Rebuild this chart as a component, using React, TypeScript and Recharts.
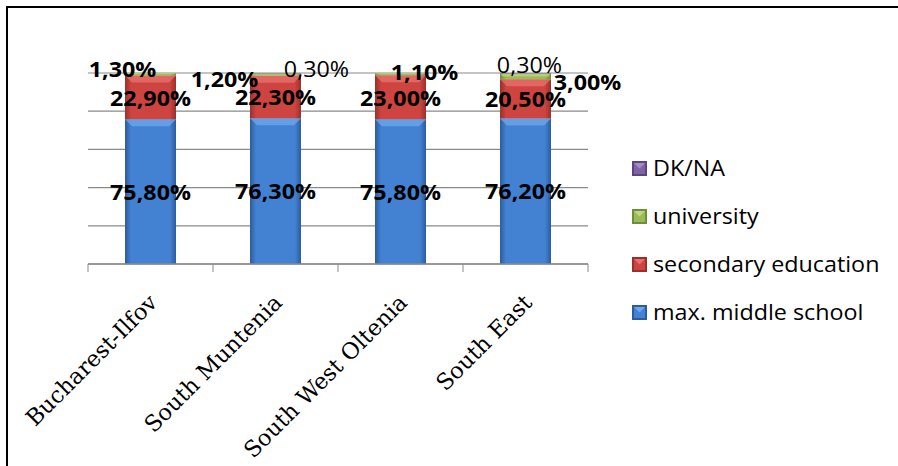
import React from 'react';
import { BarChart, Bar, XAxis, YAxis, CartesianGrid, LabelList } from 'recharts';

// Education level by development region (shares of respondents, %)
const regions = ['Bucharest-Ilfov', 'South Muntenia', 'South West Oltenia', 'South East'];
const middleSchool = [75.8, 76.3, 75.8, 76.2];
const secondaryEducation = [22.9, 22.3, 23.0, 20.5];
const university = [1.3, 1.2, 1.1, 3.0];
const dkNa = [0, 0.3, 0, 0.3];
const yTicks = [0, 20, 40, 60, 80, 100];

const valuesByKey: Record<string, number[]> = {
  middleSchool,
  secondaryEducation,
  university,
  dkNa,
};

const data = regions.map((region, i) => ({
  region,
  middleSchool: middleSchool[i],
  secondaryEducation: secondaryEducation[i],
  university: university[i],
  dkNa: dkNa[i],
}));

type Series = {
  key: string;
  name: string;
  base: string;
  light: string;
  dark: string;
  bold: boolean;
};

const series: Series[] = [
  { key: 'middleSchool', name: 'max. middle school', base: '#4382D3', light: '#6EA8EE', dark: '#2C5C9E', bold: true },
  { key: 'secondaryEducation', name: 'secondary education', base: '#CE4440', light: '#E8716D', dark: '#98302C', bold: true },
  { key: 'university', name: 'university', base: '#9BBB59', light: '#BCD880', dark: '#6E8E37', bold: true },
  { key: 'dkNa', name: 'DK/NA', base: '#8064A2', light: '#A58ACB', dark: '#5B4580', bold: false },
];

// Thin segments get their labels nudged off the bar: [dx from bar centre, dy from segment middle]
const thinLabelShift: Record<string, [number, number][]> = {
  university: [[-28, -5], [-51, 4], [24, -2], [62, 5]],
  dkNa: [[0, 0], [41, -4], [0, 0], [4, -9]],
};

const LABEL_FONT = '"Open Sans", "Noto Sans", sans-serif';
const AXIS_FONT = '"DejaVu Serif", "Liberation Serif", serif';
const GRID = '#8a8a8a';

const fmtPct = (v: number) => v.toFixed(2).replace('.', ',') + '%';

const BevelBar = (props: any) => {
  const { x, y, width, height, s } = props as { x: number; y: number; width: number; height: number; s: Series };
  if (!height || height <= 0 || !width) return null;
  const b = Math.min(7, height / 2);
  return (
    <g>
      <rect x={x} y={y} width={width} height={height} fill={`url(#grad-${s.key})`} />
      <polygon
        points={`${x},${y} ${x + width},${y} ${x + width - b},${y + b} ${x + b},${y + b}`}
        fill={s.light}
        opacity={0.75}
      />
    </g>
  );
};

const makeLabel = (s: Series) => (p: any) => {
  const vb = p.viewBox || {};
  const x = p.x ?? vb.x;
  const y = p.y ?? vb.y;
  const width = p.width ?? vb.width;
  const height = p.height ?? vb.height;
  const index: number = p.index ?? 0;
  const value = valuesByKey[s.key][index];
  if (!value || x == null) return null;
  let cx = x + width / 2;
  let cy = y + height / 2;
  const shift = thinLabelShift[s.key];
  if (shift) {
    cx += shift[index][0];
    cy += shift[index][1];
  }
  return (
    <g transform={`translate(${cx},${cy}) scale(1.06,1)`}>
      <text
        x={0}
        y={0}
        textAnchor="middle"
        dominantBaseline="central"
        fontFamily={LABEL_FONT}
        fontSize={22}
        fontWeight={s.bold ? 700 : 400}
        fill="#000"
      >
        {fmtPct(value)}
      </text>
    </g>
  );
};

const RegionTick = (p: any) => {
  const { x, y, payload, index, visibleTicksCount } = p;
  const half = payload && payload.offset ? payload.offset : 62.5;
  const last = index === (visibleTicksCount ?? regions.length) - 1;
  return (
    <g>
      <line x1={x - half} y1={y} x2={x - half} y2={y + 8} stroke={GRID} />
      {last && <line x1={x + half} y1={y} x2={x + half} y2={y + 8} stroke={GRID} />}
      <text
        transform={`translate(${x + 8},${y + 40}) rotate(-45)`}
        textAnchor="end"
        fontFamily={AXIS_FONT}
        fontSize={22.5}
        fill="#000"
      >
        {payload.value}
      </text>
    </g>
  );
};

const LegendSwatch = ({ s }: { s: Series }) => (
  <svg width={15} height={15} style={{ display: 'block' }}>
    <rect x={0} y={0} width={15} height={15} fill={s.dark} />
    <polygon points="2,2 13,2 13,13 2,13" fill={s.base} />
    <polygon points="2,2 13,2 7.5,7.5" fill={s.light} />
  </svg>
);

const LegendBox = () => (
  <div style={{ position: 'absolute', left: 632, top: 144, display: 'flex', flexDirection: 'column' }}>
    {[...series].reverse().map((s) => (
      <div key={s.key} style={{ display: 'flex', alignItems: 'center', height: 48 }}>
        <LegendSwatch s={s} />
        <span
          style={{
            marginLeft: 6,
            fontFamily: LABEL_FONT,
            fontSize: 21,
            color: '#000',
            whiteSpace: 'nowrap',
            display: 'inline-block',
            transform: 'scaleX(1.11)',
            transformOrigin: 'left center',
          }}
        >
          {s.name}
        </span>
      </div>
    ))}
  </div>
);

export default function App() {
  return (
    <div
      style={{
        position: 'absolute',
        left: 0,
        top: 0,
        width: 898,
        height: 466,
        background: '#fff',
        overflow: 'hidden',
      }}
    >
      <BarChart
        width={898}
        height={466}
        data={data}
        margin={{ top: 73, right: 310, bottom: 52, left: 88 }}
        barSize={51}
      >
        <defs>
          {series.map((s) => (
            <linearGradient key={s.key} id={`grad-${s.key}`} x1="0" y1="0" x2="1" y2="0">
              <stop offset="0%" stopColor={s.dark} />
              <stop offset="12%" stopColor={s.base} />
              <stop offset="50%" stopColor={s.base} />
              <stop offset="88%" stopColor={s.base} />
              <stop offset="100%" stopColor={s.dark} />
            </linearGradient>
          ))}
        </defs>
        <CartesianGrid vertical={false} stroke={GRID} strokeWidth={1.2} />
        <YAxis hide domain={[0, 100]} ticks={yTicks} allowDataOverflow />
        <XAxis
          dataKey="region"
          height={150}
          axisLine={{ stroke: GRID, strokeWidth: 1.5 }}
          tickLine={false}
          tickSize={0}
          tickMargin={0}
          interval={0}
          tick={<RegionTick />}
        />
        {series.map((s) => (
          <Bar
            key={s.key}
            dataKey={s.key}
            name={s.name}
            stackId="edu"
            fill={s.base}
            isAnimationActive={false}
            shape={(p: any) => <BevelBar {...p} s={s} />}
          >
            <LabelList dataKey={s.key} content={makeLabel(s)} />
          </Bar>
        ))}
      </BarChart>
      <LegendBox />
      <div
        style={{
          position: 'absolute',
          left: 6,
          top: 6,
          width: 920,
          height: 480,
          borderLeft: '2px solid #000',
          borderTop: '2px solid #000',
          pointerEvents: 'none',
        }}
      />
    </div>
  );
}
